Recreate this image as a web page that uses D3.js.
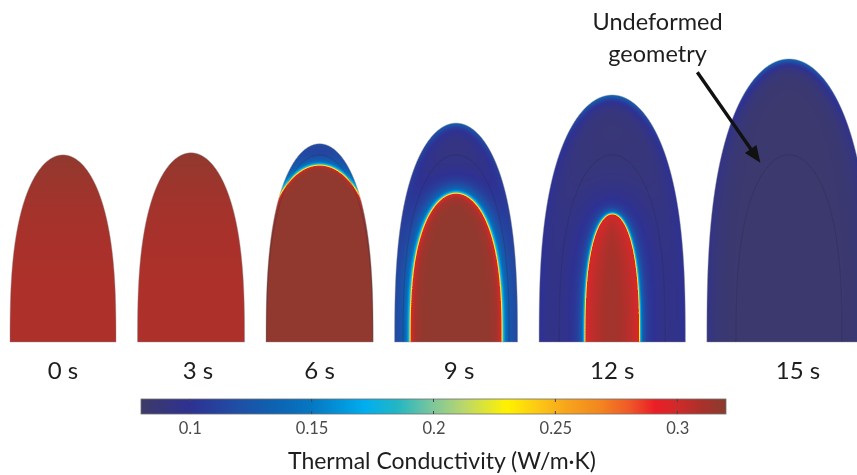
<!DOCTYPE html>
<html>
<head>
<meta charset="utf-8">
<script src="https://cdn.jsdelivr.net/npm/d3@7"></script>
<style>
  html, body { margin: 0; padding: 0; background: #fff; }
  #chart { position: relative; width: 857px; height: 475px; overflow: hidden; }
  #chart canvas, #chart svg { position: absolute; left: 0; top: 0; }
  text { font-family: Lato, "Open Sans", sans-serif; }
</style>
</head>
<body>
<div id="chart"></div>
<script>
// ---- time steps ----
const timeLabels = ["0 s", "3 s", "6 s", "9 s", "12 s", "15 s"];

// ---- deformed body outline (units of the undeformed radius) ----
const outerRadius = [1.00, 1.01, 1.01, 1.16, 1.38, 1.55];
const outerHeight = [3.53, 3.57, 3.74, 4.13, 4.66, 5.34];

// ---- high-conductivity core; null where the body is uniform ----
const coreRadius = [null, null, 1.17, 0.85, 0.50, null];
const coreHeight = [null, null, 3.32, 2.79, 2.40, null];

// ---- conductivity levels (W/m·K) ----
const coreValue  = [0.309, 0.309, 0.318, 0.318, 0.317, null];
const shellValue = [null, null, 0.098, 0.090, 0.087, 0.083];

// ---- undeformed geometry ----
const undeformedRadius = 1.00;
const undeformedHeight = 3.53;

// ---- colour bar ----
const cbDomain = [0.08, 0.32];
const cbTicks = [0.1, 0.15, 0.2, 0.25, 0.3];
const cmapValues = [0.08, 0.10, 0.12, 0.135, 0.15, 0.172, 0.185, 0.20, 0.212, 0.23,
                    0.243, 0.255, 0.268, 0.28, 0.291, 0.30, 0.31, 0.32];
const cmapColors = ["#3e3a68", "#2e3192", "#1f4fa6", "#0d63b2", "#0677c2", "#00aeef",
                    "#22b6c4", "#7fc79a", "#b8d66e", "#fff200", "#fcc814", "#f7a31c",
                    "#f3871f", "#ef5a28", "#ea1e26", "#cf2a2a", "#aa312b", "#8a3b2f"];

// ---- layout ----
const W = 857, H = 475;
const unit = 53;          // px per unit radius
const baseY = 342;        // substrate line
const gap = 21.5, startX = 10;
const q = 2.7;            // dome profile exponent
const labelNudge = [0, 7, 0, 3, 0, 9];

const color = d3.scaleLinear().domain(cmapValues).range(cmapColors)
  .interpolate(d3.interpolateRgb).clamp(true);

// per-panel horizontal scales, laid out left to right with a constant gap
const xScales = [];
{
  let cursor = startX;
  outerRadius.forEach(r => {
    const cx = cursor + r * unit;
    xScales.push(d3.scaleLinear().domain([0, 1]).range([cx, cx + unit]));
    cursor += 2 * r * unit + gap;
  });
}
const yScale = d3.scaleLinear().domain([0, 1]).range([baseY, baseY - unit]);

// dome outline in model units, left base -> tip -> right base
function domePoints(R, Hh, n = 220) {
  const left = [];
  for (let k = 0; k <= n; k++) {
    const s = k / n;
    const h = 1 - (1 - s) * (1 - s);
    left.push([-R * Math.sqrt(Math.max(0, 1 - Math.pow(h, q))), h * Hh]);
  }
  const right = left.slice(0, -1).reverse().map(([r, z]) => [-r, z]);
  return left.concat(right);
}

// colour lookup table
const LUT_N = 1024;
const lut = d3.range(LUT_N).map(i => {
  const v = cbDomain[0] + (cbDomain[1] - cbDomain[0]) * i / (LUT_N - 1);
  return d3.rgb(color(v));
});
function lookup(v) {
  let i = Math.round((v - cbDomain[0]) / (cbDomain[1] - cbDomain[0]) * (LUT_N - 1));
  return lut[Math.max(0, Math.min(LUT_N - 1, i))];
}

// ---- conductivity field ----
const container = d3.select("#chart");
const canvas = container.append("canvas").attr("width", W).attr("height", H).node();
const ctx = canvas.getContext("2d");
const img = ctx.createImageData(W, H);
const buf = img.data;
for (let i = 0; i < buf.length; i += 4) { buf[i] = buf[i+1] = buf[i+2] = 255; buf[i+3] = 255; }

// widths of the transition zone around the core
const nearWidth = [null, null, 5, 7, 3.5, null];
const nearAmp   = [null, null, 0.05, 0.055, 0.06, null];
const farWidth  = [null, null, 14, 16, 22, null];
const coreRamp  = [null, null, 1.5, 4, 16, null];
const rimTip    = [0, 0, 0.01, 0.035, 0.045, 0.05];
const rimSide   = [0, 0, 0.005, 0.012, 0.012, 0.012];

outerRadius.forEach((R, i) => {
  const xs = xScales[i];
  const Hh = outerHeight[i];
  const hasCore = coreRadius[i] !== null;
  let corePx = null;
  if (hasCore) corePx = domePoints(coreRadius[i], coreHeight[i], 400).map(([r, z]) => [xs(r), yScale(z)]);

  const x0 = Math.max(0, Math.floor(xs(-R)) - 2), x1 = Math.min(W - 1, Math.ceil(xs(R)) + 2);
  const y0 = Math.max(0, Math.floor(yScale(Hh)) - 2), y1 = Math.ceil(baseY);

  for (let Y = y0; Y < y1; Y++) {
    for (let X = x0; X <= x1; X++) {
      const px = X + 0.5, py = Y + 0.5;
      const xm = xs.invert(px), zm = yScale.invert(py);
      // signed distance to outer outline (px, positive inside)
      const u = Math.abs(xm) / R;
      const h = Math.max(0, zm / Hh);
      const G = u * u + Math.pow(h, q) - 1;
      const gx = 2 * u / R, gz = q * Math.pow(h, q - 1) / Hh;
      const e = -G / Math.hypot(gx, gz) * unit;
      let alpha = Math.max(0, Math.min(1, e + 0.5));
      alpha *= Math.max(0, Math.min(1, baseY - Y));
      if (alpha <= 0) continue;

      let v;
      if (!hasCore && coreValue[i] !== null) {
        v = coreValue[i] + 0.009 * Math.pow(h, 3);
      } else if (!hasCore) {
        v = shellValue[i];
        v += rimTip[i] * Math.exp(-e / 5) * Math.pow(h, 8) + rimSide[i] * Math.exp(-e / 10);
      } else {
        // exact distance to the core front
        let dmin = Infinity;
        for (let k = 0; k < corePx.length; k++) {
          const dx = corePx[k][0] - px, dy = corePx[k][1] - py;
          const dd = dx * dx + dy * dy;
          if (dd < dmin) dmin = dd;
        }
        dmin = Math.sqrt(dmin);
        const cu = Math.abs(xm) / coreRadius[i];
        const ch = Math.max(0, zm / coreHeight[i]);
        const inside = cu * cu + Math.pow(ch, q) - 1 < 0;
        if (inside) {
          v = coreValue[i] - (coreValue[i] - 0.297) * Math.exp(-dmin / coreRamp[i]);
        } else {
          const vf = shellValue[i];
          const a1 = nearAmp[i], a2 = 0.172 - vf - a1;
          v = vf + 0.125 * Math.exp(-dmin / 1.5) + a1 * Math.exp(-dmin / nearWidth[i])
                + a2 * Math.exp(-dmin / farWidth[i]);
          v += rimTip[i] * Math.exp(-e / 5) * Math.pow(h, 8) + rimSide[i] * Math.exp(-e / 10);
        }
      }
      const c = lookup(v);
      const o = (Y * W + X) * 4;
      buf[o]     = Math.round(c.r * alpha + buf[o] * (1 - alpha));
      buf[o + 1] = Math.round(c.g * alpha + buf[o + 1] * (1 - alpha));
      buf[o + 2] = Math.round(c.b * alpha + buf[o + 2] * (1 - alpha));
    }
  }
});
ctx.putImageData(img, 0, 0);

// ---- vector overlay ----
const svg = container.append("svg").attr("width", W).attr("height", H);

// outlines and time labels
outerRadius.forEach((R, i) => {
  const xs = xScales[i];
  const line = d3.line().x(d => xs(d[0])).y(d => yScale(d[1]));
  svg.append("path")
    .attr("d", line(domePoints(R, outerHeight[i])) + "Z")
    .attr("fill", "none").attr("stroke", "#8c8c8c").attr("stroke-width", 0.6).attr("opacity", 0.7);
  if (i >= 2) {
    svg.append("path")
      .attr("d", line(domePoints(undeformedRadius, undeformedHeight)))
      .attr("fill", "none").attr("stroke", "#2a2a44").attr("stroke-width", 0.9).attr("opacity", 0.3);
  }
  svg.append("text")
    .attr("x", xs(0) + labelNudge[i]).attr("y", 379)
    .attr("text-anchor", "middle").attr("font-size", 24).attr("fill", "#1e1e1e")
    .text(timeLabels[i]);
});

// annotation: undeformed geometry
{
  const xs = xScales[5];
  const start = [xs(-1.73), yScale(5.09)], tip = [xs(-0.54), yScale(3.38)];
  const dx = tip[0] - start[0], dy = tip[1] - start[1], L = Math.hypot(dx, dy);
  const ux = dx / L, uy = dy / L, headL = 17, headW = 7;
  const bx = tip[0] - ux * headL, by = tip[1] - uy * headL;
  svg.append("line").attr("x1", start[0]).attr("y1", start[1]).attr("x2", bx + ux * 2).attr("y2", by + uy * 2)
    .attr("stroke", "#111").attr("stroke-width", 3.4);
  svg.append("path")
    .attr("d", `M${tip[0]},${tip[1]}L${bx - uy * headW},${by + ux * headW}L${bx + uy * headW},${by - ux * headW}Z`)
    .attr("fill", "#111");
  const tx = xs(-2.48);
  svg.append("text").attr("x", tx).attr("y", 30).attr("text-anchor", "middle")
    .attr("font-size", 23.5).attr("fill", "#1e1e1e").text("Undeformed");
  svg.append("text").attr("x", tx).attr("y", 62).attr("text-anchor", "middle")
    .attr("font-size", 23.5).attr("fill", "#1e1e1e").text("geometry");
}

// ---- colour bar ----
const cbX = d3.scaleLinear().domain(cbDomain).range([141, 726]);
const cbTop = 399, cbH = 15;
const grad = svg.append("defs").append("linearGradient").attr("id", "cbGrad")
  .attr("x1", "0%").attr("x2", "100%").attr("y1", "0%").attr("y2", "0%");
cmapValues.forEach((v, k) => {
  grad.append("stop")
    .attr("offset", ((v - cbDomain[0]) / (cbDomain[1] - cbDomain[0]) * 100) + "%")
    .attr("stop-color", cmapColors[k]);
});
svg.append("rect").attr("x", cbX(cbDomain[0])).attr("y", cbTop)
  .attr("width", cbX(cbDomain[1]) - cbX(cbDomain[0])).attr("height", cbH)
  .attr("fill", "url(#cbGrad)").attr("stroke", "#6e6e6e").attr("stroke-width", 0.8);

const tickG = svg.append("g").attr("transform", `translate(0,${cbTop + cbH})`)
  .call(d3.axisBottom(cbX).tickValues(cbTicks).tickFormat(d3.format("")).tickSize(0).tickPadding(8));
tickG.select(".domain").remove();
tickG.selectAll("text").attr("font-size", 16.5).attr("fill", "#4a4a4a")
  .attr("font-family", "Lato, 'Open Sans', sans-serif");
cbTicks.forEach(t => {
  svg.append("line").attr("x1", cbX(t)).attr("x2", cbX(t)).attr("y1", cbTop).attr("y2", cbTop + 3)
    .attr("stroke", "#444").attr("stroke-width", 1);
  svg.append("line").attr("x1", cbX(t)).attr("x2", cbX(t)).attr("y1", cbTop + cbH - 3).attr("y2", cbTop + cbH)
    .attr("stroke", "#444").attr("stroke-width", 1);
});
svg.append("text").attr("x", 442).attr("y", 469).attr("text-anchor", "middle")
  .attr("font-size", 23).attr("fill", "#1e1e1e").text("Thermal Conductivity (W/m·K)");
</script>
</body>
</html>
